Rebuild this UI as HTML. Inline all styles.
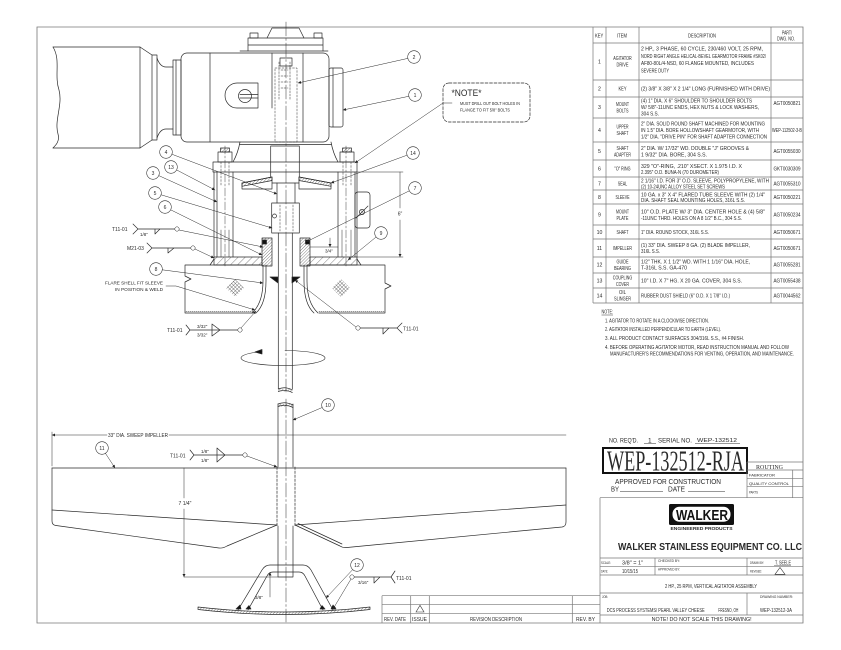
<!DOCTYPE html>
<html><head><meta charset="utf-8">
<style>
html,body{margin:0;padding:0;background:#fff;}
svg{display:block;}
text{font-family:"Liberation Sans",sans-serif;fill:#2a2a2a;stroke:none;}
.s{font-size:5.2px;}
.d{font-size:5px;}
.b{font-size:5px;text-anchor:middle;}
</style></head><body>
<svg width="841" height="650" viewBox="0 0 841 650" xmlns="http://www.w3.org/2000/svg">
<defs>
<pattern id="hatch" width="2.2" height="2.2" patternUnits="userSpaceOnUse" patternTransform="rotate(45)"><line x1="0" y1="0" x2="0" y2="2.2" stroke="#333" stroke-width="0.6"/></pattern>
<pattern id="hatchw" width="5" height="5" patternUnits="userSpaceOnUse" patternTransform="rotate(45)"><line x1="0" y1="0" x2="0" y2="5" stroke="#333" stroke-width="0.6"/></pattern>
<pattern id="xh" width="2.6" height="2.6" patternUnits="userSpaceOnUse" patternTransform="rotate(45)"><path d="M0 0V2.6M0 0H2.6" stroke="#333" stroke-width="0.6"/></pattern>
<marker id="ar" viewBox="0 0 10 10" refX="10" refY="5" markerWidth="4" markerHeight="3" orient="auto" markerUnits="userSpaceOnUse"><path d="M0 0L10 5L0 10z" fill="#222"/></marker>
</defs>

<!-- ===== FRAME ===== -->
<g fill="none" stroke="#777" stroke-width="0.8">
<path d="M37 27H803V623H37Z"/>
</g>

<!-- ===== PARTS TABLE ===== -->
<g fill="none" stroke="#777" stroke-width="0.7">
<path d="M593 27V303M606 27V303M639 27V303M771 27V303"/>
<path d="M593 43H803M593 80H803M593 97H803M593 118H803M593 142H803M593 160H803M593 177H803M593 190H803M593 204H803M593 225H803M593 239H803M593 257H803M593 273H803M593 288H803M593 303H803"/>
</g>
<g class="s">
<text x="595" y="37.5" textLength="8.3" lengthAdjust="spacingAndGlyphs">KEY</text>
<text x="617" y="37.5" textLength="10" lengthAdjust="spacingAndGlyphs">ITEM</text>
<text x="688" y="37.5" textLength="28" lengthAdjust="spacingAndGlyphs">DESCRIPTION</text>
<text x="782" y="34.5" textLength="10" lengthAdjust="spacingAndGlyphs">PART/</text>
<text x="777" y="40.5" textLength="18" lengthAdjust="spacingAndGlyphs">DWG. NO.</text>
</g>
<g class="s" text-anchor="middle">
<text x="599.5" y="63.5">1</text>
<text x="599.5" y="90.5">2</text>
<text x="599.5" y="109">3</text>
<text x="599.5" y="132">4</text>
<text x="599.5" y="153">5</text>
<text x="599.5" y="170.5">6</text>
<text x="599.5" y="185.5">7</text>
<text x="599.5" y="199">8</text>
<text x="599.5" y="216.5">9</text>
<text x="599.5" y="234">10</text>
<text x="599.5" y="250">11</text>
<text x="599.5" y="266.5">12</text>
<text x="599.5" y="282.5">13</text>
<text x="599.5" y="297.5">14</text>
</g>
<g class="s" text-anchor="middle">
<text x="622.5" y="60" textLength="18.5" lengthAdjust="spacingAndGlyphs">AGITATOR</text>
<text x="622.5" y="66.5" textLength="12" lengthAdjust="spacingAndGlyphs">DRIVE</text>
<text x="622.5" y="90.5" textLength="8" lengthAdjust="spacingAndGlyphs">KEY</text>
<text x="622.5" y="106" textLength="13" lengthAdjust="spacingAndGlyphs">MOUNT</text>
<text x="622.5" y="112.5" textLength="12" lengthAdjust="spacingAndGlyphs">BOLTS</text>
<text x="622.5" y="128.5" textLength="12" lengthAdjust="spacingAndGlyphs">UPPER</text>
<text x="622.5" y="135" textLength="12" lengthAdjust="spacingAndGlyphs">SHAFT</text>
<text x="622.5" y="150" textLength="12" lengthAdjust="spacingAndGlyphs">SHAFT</text>
<text x="622.5" y="156.5" textLength="17" lengthAdjust="spacingAndGlyphs">ADAPTER</text>
<text x="622.5" y="170.5" textLength="16" lengthAdjust="spacingAndGlyphs">&quot;O&quot; RING</text>
<text x="622.5" y="185.5" textLength="9.5" lengthAdjust="spacingAndGlyphs">SEAL</text>
<text x="622.5" y="199" textLength="14" lengthAdjust="spacingAndGlyphs">SLEEVE</text>
<text x="622.5" y="213.5" textLength="13" lengthAdjust="spacingAndGlyphs">MOUNT</text>
<text x="622.5" y="220" textLength="12" lengthAdjust="spacingAndGlyphs">PLATE</text>
<text x="622.5" y="234" textLength="12" lengthAdjust="spacingAndGlyphs">SHAFT</text>
<text x="622.5" y="250" textLength="19" lengthAdjust="spacingAndGlyphs">IMPELLER</text>
<text x="622.5" y="263.5" textLength="12" lengthAdjust="spacingAndGlyphs">GUIDE</text>
<text x="622.5" y="270" textLength="17" lengthAdjust="spacingAndGlyphs">BEARING</text>
<text x="622.5" y="279.5" textLength="19.5" lengthAdjust="spacingAndGlyphs">COUPLING</text>
<text x="622.5" y="286" textLength="13" lengthAdjust="spacingAndGlyphs">COVER</text>
<text x="622.5" y="294" textLength="7" lengthAdjust="spacingAndGlyphs">OIL</text>
<text x="622.5" y="300.5" textLength="17" lengthAdjust="spacingAndGlyphs">SLINGER</text>
</g>
<g class="s">
<text x="641" y="50.5" textLength="122" lengthAdjust="spacingAndGlyphs">2 HP., 3 PHASE, 60 CYCLE, 230/460 VOLT, 25 RPM,</text>
<text x="641" y="57.8" textLength="125" lengthAdjust="spacingAndGlyphs">NORD RIGHT ANGLE HELICAL-BEVEL GEARMOTOR FRAME #SK02/</text>
<text x="641" y="65" textLength="113" lengthAdjust="spacingAndGlyphs">AF80-80L/4-NSD, 60 FLANGE MOUNTED, INCLUDES</text>
<text x="641" y="72.3" textLength="28" lengthAdjust="spacingAndGlyphs">SEVERE DUTY</text>
<text x="641" y="90.5" textLength="129" lengthAdjust="spacingAndGlyphs">(2) 3/8&quot; X 3/8&quot; X 2 1/4&quot; LONG (FURNISHED WITH DRIVE)</text>
<text x="641" y="102.5" textLength="111" lengthAdjust="spacingAndGlyphs">(4) 1&quot; DIA. X 6&quot; SHOULDER TO SHOULDER BOLTS</text>
<text x="641" y="109" textLength="118" lengthAdjust="spacingAndGlyphs">W/ 5/8&quot;-11UNC ENDS, HEX NUTS &amp; LOCK WASHERS,</text>
<text x="641" y="115.5" textLength="18" lengthAdjust="spacingAndGlyphs">304 S.S.</text>
<text x="641" y="125.5" textLength="124" lengthAdjust="spacingAndGlyphs">2&quot; DIA. SOLID ROUND SHAFT MACHINED FOR MOUNTING</text>
<text x="641" y="132" textLength="118" lengthAdjust="spacingAndGlyphs">IN 1.5&quot; DIA. BORE HOLLOWSHAFT GEARMOTOR, WITH</text>
<text x="641" y="138.5" textLength="126" lengthAdjust="spacingAndGlyphs">1/2&quot; DIA. &quot;DRIVE PIN&quot; FOR SHAFT ADAPTER CONNECTION</text>
<text x="641" y="150" textLength="108" lengthAdjust="spacingAndGlyphs">2&quot; DIA. W/ 17/32&quot; WD. DOUBLE &quot;J&quot; GROOVES &amp;</text>
<text x="641" y="156.5" textLength="66" lengthAdjust="spacingAndGlyphs">1 9/32&quot; DIA. BORE, 304 S.S.</text>
<text x="641" y="168" textLength="101" lengthAdjust="spacingAndGlyphs">329 &quot;O&quot;-RING, .210&quot; XSECT. X 1.975 I.D. X</text>
<text x="641" y="174" textLength="78" lengthAdjust="spacingAndGlyphs">2.395&quot; O.D. BUNA-N (70 DUROMETER)</text>
<text x="641" y="182.5" textLength="128" lengthAdjust="spacingAndGlyphs">2 1/16&quot; I.D. FOR 3&quot; O.D. SLEEVE, POLYPROPYLENE, WITH</text>
<text x="641" y="188.3" textLength="84" lengthAdjust="spacingAndGlyphs">(2) 10-24UNC ALLOY STEEL SET SCREWS</text>
<text x="641" y="196.5" textLength="124" lengthAdjust="spacingAndGlyphs">10 GA. x 3&quot; X 4&quot; FLARED TUBE SLEEVE WITH (2) 1/4&quot;</text>
<text x="641" y="202" textLength="104" lengthAdjust="spacingAndGlyphs">DIA. SHAFT SEAL MOUNTING HOLES, 316L S.S.</text>
<text x="641" y="213.5" textLength="124" lengthAdjust="spacingAndGlyphs">10&quot; O.D. PLATE W/ 3&quot; DIA. CENTER HOLE &amp; (4) 5/8&quot;</text>
<text x="641" y="220" textLength="101" lengthAdjust="spacingAndGlyphs">-11UNC THRD. HOLES ON A 8 1/2&quot; B.C., 304 S.S.</text>
<text x="641" y="234" textLength="68" lengthAdjust="spacingAndGlyphs">1&quot; DIA. ROUND STOCK, 316L S.S.</text>
<text x="641" y="247" textLength="109" lengthAdjust="spacingAndGlyphs">(1) 33&quot; DIA. SWEEP 8 GA. (2) BLADE IMPELLER,</text>
<text x="641" y="253" textLength="19" lengthAdjust="spacingAndGlyphs">316L S.S.</text>
<text x="641" y="263.5" textLength="109" lengthAdjust="spacingAndGlyphs">1/2&quot; THK. X 1 1/2&quot; WD. WITH 1 1/16&quot; DIA. HOLE,</text>
<text x="641" y="269.5" textLength="46" lengthAdjust="spacingAndGlyphs">T-316L S.S. GA-470</text>
<text x="641" y="282.5" textLength="101" lengthAdjust="spacingAndGlyphs">10&quot; I.D. X  7&quot; HG. X 20 GA. COVER, 304 S.S.</text>
<text x="641" y="297.5" textLength="89" lengthAdjust="spacingAndGlyphs">RUBBER DUST SHIELD (6&quot; O.D. X 1 7/8&quot; I.D.)</text>
</g>
<g class="s" text-anchor="middle">
<text x="787" y="105" textLength="27" lengthAdjust="spacingAndGlyphs">AGT0050821</text>
<text x="787" y="132" textLength="30" lengthAdjust="spacingAndGlyphs">WEP-112502-3-B</text>
<text x="787" y="153" textLength="27" lengthAdjust="spacingAndGlyphs">AGT0055030</text>
<text x="787" y="170.5" textLength="27" lengthAdjust="spacingAndGlyphs">GKT0030309</text>
<text x="787" y="185.5" textLength="27" lengthAdjust="spacingAndGlyphs">AGT0055310</text>
<text x="787" y="199" textLength="27" lengthAdjust="spacingAndGlyphs">AGT0050221</text>
<text x="787" y="216.5" textLength="27" lengthAdjust="spacingAndGlyphs">AGT0050234</text>
<text x="787" y="234" textLength="27" lengthAdjust="spacingAndGlyphs">AGT0050671</text>
<text x="787" y="250" textLength="27" lengthAdjust="spacingAndGlyphs">AGT0050671</text>
<text x="787" y="266.5" textLength="27" lengthAdjust="spacingAndGlyphs">AGT0055281</text>
<text x="787" y="282.5" textLength="27" lengthAdjust="spacingAndGlyphs">AGT0055438</text>
<text x="787" y="297.5" textLength="27" lengthAdjust="spacingAndGlyphs">AGT0044562</text>
</g>

<!-- ===== NOTES ===== -->
<g class="s">
<text x="601.5" y="313.5" textLength="11.5" lengthAdjust="spacingAndGlyphs">NOTE:</text>
<text x="605" y="322.5" textLength="104" lengthAdjust="spacingAndGlyphs">1. AGITATOR TO ROTATE IN A CLOCKWISE DIRECTION.</text>
<text x="605" y="331" textLength="116" lengthAdjust="spacingAndGlyphs">2. AGITATOR INSTALLED PERPENDICULAR TO EARTH (LEVEL).</text>
<text x="605" y="340" textLength="139" lengthAdjust="spacingAndGlyphs">3. ALL PRODUCT CONTACT SURFACES 304/316L S.S., #4 FINISH.</text>
<text x="605" y="349" textLength="184" lengthAdjust="spacingAndGlyphs">4. BEFORE OPERATING AGITATOR MOTOR, READ INSTRUCTION MANUAL AND FOLLOW</text>
<text x="610" y="355.3" textLength="184" lengthAdjust="spacingAndGlyphs">MANUFACTURER'S RECOMMENDATIONS FOR VENTING, OPERATION, AND MAINTENANCE.</text>
</g>
<path d="M601.5 315H613" stroke="#333" stroke-width="0.5"/>

<!-- ===== TITLE BLOCK ===== -->
<g font-size="6.5">
<text x="609" y="442.5" textLength="29" lengthAdjust="spacingAndGlyphs">NO. REQ'D.</text>
<text x="648" y="442.5">1</text>
<text x="658" y="442.5" textLength="34" lengthAdjust="spacingAndGlyphs">SERIAL NO.</text>
<text x="697" y="442" font-size="5.5" textLength="40" lengthAdjust="spacingAndGlyphs">WEP-132512</text>
</g>
<path d="M644 443.5H656M695 443.5H740" stroke="#333" stroke-width="0.5"/>
<rect x="603" y="448" width="144" height="25" fill="none" stroke="#111" stroke-width="2"/>
<text x="607" y="470.5" font-size="29" textLength="137" lengthAdjust="spacingAndGlyphs" style="font-family:'Liberation Serif',serif">WEP-132512-RJA</text>
<text x="615" y="484" font-size="7.3" textLength="106" lengthAdjust="spacingAndGlyphs">APPROVED FOR CONSTRUCTION</text>
<text x="611" y="491.5" font-size="7" textLength="8" lengthAdjust="spacingAndGlyphs">BY</text>
<text x="668" y="491.5" font-size="7" textLength="17" lengthAdjust="spacingAndGlyphs">DATE</text>
<path d="M620 491.5H663M688 491.5H725" stroke="#333" stroke-width="0.5"/>

<g fill="none" stroke="#777" stroke-width="0.7">
<path d="M747 462H803M747 462V497.7M747 470H803M747 478.3H803M747 486.7H803M792.7 470V497.7"/>
<path d="M600 497.7H803M600 497.7V623"/>
<path d="M600 558H803M600 566.7H803M600 575H803M600 593H803M600 615H803"/>
<path d="M655 558V575M747 558V575M747 593V615"/>
<path d="M382 595.7H600M382 604.3H600M382 613.3H600M382 595.7V623M410.7 595.7V623M429.3 595.7V623M572.3 595.7V623"/>
</g>
<text x="756" y="468.8" font-size="6" textLength="27" lengthAdjust="spacingAndGlyphs" style="font-family:'Liberation Serif',serif">ROUTING</text>
<g font-size="4">
<text x="749" y="476.3" textLength="26" lengthAdjust="spacingAndGlyphs">FABRICATOR</text>
<text x="749" y="484.8" textLength="40" lengthAdjust="spacingAndGlyphs">QUALITY CONTROL</text>
<text x="749" y="493.5" textLength="9" lengthAdjust="spacingAndGlyphs">PARTS</text>
</g>

<!-- logo -->
<rect x="669" y="504" width="65" height="21" rx="1.5" fill="#111"/>
<rect x="672.5" y="506.8" width="58" height="15" rx="7" fill="#fff"/>
<text x="702" y="520" font-size="15" font-weight="bold" text-anchor="middle" textLength="52" lengthAdjust="spacingAndGlyphs" style="fill:#111">WALKER</text>
<text x="701.5" y="530" font-size="4.4" font-weight="bold" text-anchor="middle" textLength="62" lengthAdjust="spacingAndGlyphs">ENGINEERED PRODUCTS</text>
<text x="710" y="550" font-size="10" font-weight="bold" text-anchor="middle" textLength="184" lengthAdjust="spacingAndGlyphs">WALKER STAINLESS EQUIPMENT CO. LLC</text>

<g font-size="3.6">
<text x="601" y="563.8" textLength="10" lengthAdjust="spacingAndGlyphs">SCALE:</text>
<text x="601" y="572.5" textLength="7" lengthAdjust="spacingAndGlyphs">DATE:</text>
<text x="658" y="561.8" textLength="22" lengthAdjust="spacingAndGlyphs">CHECKED BY:</text>
<text x="658" y="570.3" textLength="22" lengthAdjust="spacingAndGlyphs">APPROVED BY:</text>
<text x="750" y="563.8" textLength="14" lengthAdjust="spacingAndGlyphs">DRAWN BY:</text>
<text x="750" y="572.5" textLength="12" lengthAdjust="spacingAndGlyphs">REVISED:</text>
<text x="602" y="598" textLength="6" lengthAdjust="spacingAndGlyphs">JOB:</text>
<text x="760" y="598" textLength="33" lengthAdjust="spacingAndGlyphs">DRAWING NUMBER:</text>
</g>
<g font-size="5">
<text x="622" y="564.5" textLength="21" lengthAdjust="spacingAndGlyphs">3/8&quot; = 1&quot;</text>
<text x="622" y="573" textLength="16" lengthAdjust="spacingAndGlyphs">10/15/15</text>
<text x="775" y="564.5" textLength="16" lengthAdjust="spacingAndGlyphs">T. SEELE</text>
<text x="665" y="587.8" textLength="92" lengthAdjust="spacingAndGlyphs">2 HP., 25 RPM, VERTICAL AGITATOR ASSEMBLY</text>
<text x="606.7" y="611.8" textLength="98" lengthAdjust="spacingAndGlyphs">DCS PROCESS SYSTEMS/ PEARL VALLEY CHEESE</text>
<text x="718.3" y="611.8" textLength="20" lengthAdjust="spacingAndGlyphs">FRESNO, OH</text>
<text x="760" y="611.8" textLength="32" lengthAdjust="spacingAndGlyphs">WEP-132512-3A</text>
<text x="651.7" y="621.2" textLength="100" lengthAdjust="spacingAndGlyphs">NOTE! DO NOT SCALE THIS DRAWING!</text>
<text x="384" y="621" textLength="22" lengthAdjust="spacingAndGlyphs">REV. DATE</text>
<text x="412" y="621" textLength="15" lengthAdjust="spacingAndGlyphs">ISSUE</text>
<text x="470" y="621" textLength="52" lengthAdjust="spacingAndGlyphs">REVISION DESCRIPTION</text>
<text x="576" y="621" textLength="19" lengthAdjust="spacingAndGlyphs">REV. BY</text>
</g>
<path d="M774 565.5H791" stroke="#333" stroke-width="0.4"/>
<path d="M775 574.3L780 567.5L785 574.3Z M416 612L420 605.3L424 612Z" fill="none" stroke="#333" stroke-width="0.6"/>

<!-- ===== DRAWING ===== -->
<g fill="none" stroke="#2a2a2a" stroke-width="0.7" stroke-linejoin="round" stroke-linecap="round">
<!-- center line -->
<path d="M286 22V392M286 399V622" stroke-dasharray="14 2.5 2 2.5" stroke-width="0.5"/>
<path d="M225 146V268M346 146V268" stroke-dasharray="8 2 2 2" stroke-width="0.45"/>

<!-- motor -->
<path d="M53 47C61 60 54 75 59 90C63 105 54 120 58 134C60 141 56 145 53 148"/>
<path d="M53 47H140L152 55V140L140 148H53"/>
<path d="M140 47V148"/>
<path d="M152 55H157V140H152"/>
<path d="M157 58Q160 67 166 67H173M157 138Q160 129 166 129H173"/>
<rect x="173" y="60" width="8" height="75"/>
<path d="M176 60V135"/>
<!-- gearbox -->
<rect x="181" y="53" width="148" height="89" rx="6"/>
<path d="M210 53V142"/>
<path d="M272 53V108M303 53V142"/>
<path d="M240 51H328"/>
<path d="M248 51V38H323V51M248 45H323"/>
<rect x="250" y="33" width="8" height="5"/>
<rect x="314" y="33" width="8" height="5"/>
<path d="M267 38L272 28H299L304 38"/>
<rect x="329" y="68" width="14" height="59" rx="2"/>
<path d="M333 68V127"/>
<path d="M258 83H237A12 12.5 0 0 0 237 108H258Z"/>
<circle cx="245" cy="96" r="6.5"/>
<path d="M240 94.5H258M240 98H258"/>
<path d="M240 142Q238 153 233 162M331 142Q333 153 338 162M240 144.5H331"/>
<!-- hidden shaft -->
<rect x="275" y="68" width="22" height="74" stroke-dasharray="2 1.5" stroke-width="0.5"/>
<path d="M279 62V100M290 62V100M281 70H288M281 76H288M281 82H288M281 88H288" stroke-dasharray="2 1.2" stroke-width="0.5"/>
<rect x="280" y="58" width="12" height="8"/>
<!-- mount frame top -->
<rect x="213" y="162" width="144" height="10"/>
<rect x="218" y="152" width="14" height="10"/>
<rect x="340" y="152" width="14" height="10"/>
<rect x="220.5" y="148" width="9" height="4" fill="url(#hatch)"/>
<rect x="342.5" y="148" width="9" height="4" fill="url(#hatch)"/>
<path d="M221 162V186M229 162V186M343 162V186M351 162V186" stroke-dasharray="2 1.5" stroke-width="0.5"/>
<!-- posts -->
<path d="M214 172V257M217 172V257M233 172V257M338 172V257M355 172V257M357 172V257"/>
<path d="M221 230V257M229 230V257M342 230V257M351 230V257" stroke-width="0.5"/>
<rect x="355" y="192" width="15" height="36" rx="3"/>
<circle cx="362" cy="212" r="2.6" fill="url(#xh)"/>
<path d="M356 218L368 206"/>
<!-- shaft 4 region -->
<rect x="270.7" y="146" width="28.6" height="37"/>
<path d="M277 183V203M295 183V203"/>
<!-- oil slinger -->
<path d="M242 183L272 177V189H242Z M299 177L331 183V189H299Z" fill="#fff"/>
<path d="M242 183L272 177V180.5L242 186.3Z M299 177L331 183V186.3L299 180.5Z" fill="url(#hatch)"/>
<!-- adapter -->
<rect x="271.7" y="203" width="27.6" height="30"/>
<circle cx="274.5" cy="216" r="2"/>
<path d="M280 205V231M293 205V231" stroke-dasharray="2 1.5" stroke-width="0.5"/>
<!-- shaft 10 upper -->
<path d="M278.3 233V389M292.3 233V389"/>
<path d="M278.3 389Q285 386 292.3 390M278.3 391.5Q285 389 292.3 392.5"/>
<rect x="278.3" y="389" width="14" height="2.5" fill="url(#hatch)" stroke="none"/>
<!-- seal / sleeve -->
<rect x="262" y="238" width="10" height="28" fill="url(#hatch)"/>
<rect x="300" y="238" width="10" height="28" fill="url(#hatch)"/>
<rect x="262.5" y="240" width="4" height="4" fill="#111"/>
<rect x="305.5" y="240" width="4" height="4" fill="#111"/>
<!-- mount plate -->
<rect x="214" y="257" width="48" height="8" fill="url(#hatchw)"/>
<rect x="310" y="257" width="47" height="8" fill="url(#hatchw)"/>
<path d="M210 265L214 259M357 259L361 265"/>
<!-- tank roof -->
<path d="M185 265H262M185 265V276L191 279L185 282V313H253"/>
<path d="M307 265H385V283L391 286L385 289V313H319"/>
<path d="M186 311.5H253M319 311.5H384" stroke-dasharray="1 1" stroke-width="0.5"/>
<path d="M263 265V281Q263 303 252 313M266 265V281Q266 304 256 313"/>
<path d="M307 265V281Q307 303 318 313M304 265V281Q304 304 314 313"/>
<path d="M270 277H278V283Z M300 277H292V283Z" fill="#111"/>
<path d="M235 279L244 288L235 297L226 288Z" fill="url(#xh)" stroke="none"/>
<path d="M341 279L350 288L341 297L332 288Z" fill="url(#xh)" stroke="none"/>
<!-- 6" dim -->
<path d="M357 172H403M357 257H403" stroke-width="0.5"/>
<path d="M400 208V172M400 220V257" stroke-width="0.5" marker-end="url(#ar)"/>
<!-- 3/4" dim -->
<path d="M310 247H338" stroke-width="0.5"/>
<path d="M330 238V247" stroke-width="0.5" marker-end="url(#ar)"/>
<!-- rotation arrow -->
<path d="M262 351.5A42 7.5 0 1 0 285 350.5" stroke-width="0.6"/>
<path d="M255 352L262 349.5L262 354Z" fill="#111"/>

<!-- lower shaft -->
<path d="M278 404V467M293 404V467M278 526V577M293 526V577M278 577H293"/>
<path d="M278 404Q285 401 293 405M278 406.5Q285 403.5 293 407.5"/>
<rect x="278" y="404" width="15" height="2.5" fill="url(#hatch)" stroke="none"/>
<!-- impeller -->
<path d="M52 432V466" stroke-width="0.5"/>
<path d="M107 435H52" stroke-width="0.5" marker-end="url(#ar)"/>
<path d="M169 435H566" stroke-width="0.5"/>
<path d="M52 468H566"/>
<path d="M52 468V521Q52 525 56 525.5L219 548Q223 548.5 227 546L277 525"/>
<path d="M52 510L277 525"/>
<path d="M295 525L566 505"/>
<path d="M295 525L340 546Q343 548 347 547.5L562 527Q566 526.5 566 522V468"/>
<path d="M298 523.5L342 544"/>
<path d="M277 467V526M295 467V526" stroke-dasharray="2.5 1.5"/>
<!-- 7 1/4 dim -->
<path d="M184 498V468M184 509V577" stroke-width="0.5" marker-end="url(#ar)"/>
<path d="M184 577H278" stroke-width="0.5"/>
<!-- bracket -->
<path d="M238 610L262 570Q265 565 270 565H303Q308 565 311 570L333 610"/>
<path d="M248 610L267 576Q269 572 273 572H299Q303 572 305 576L323 610"/>
<path d="M198 607Q285 617 370 607L370 609.5Q285 619.5 198 609.5Z" fill="url(#hatch)"/>
<path d="M236 609L240 605L241 609Z M246 609L249 605.5L251 609Z M320 609L322 605.5L325 609Z M331 609L333 605L336 609Z" fill="#111"/>
<path d="M270 597V572.5" stroke-width="0.5" marker-end="url(#ar)"/>

<!-- weld symbols -->
<path d="M133 224L138 229L133 234M138 229H177M155 229V234L160 229"/>
<path d="M147 243L152 248L147 253M152 248H193M168 248V253L174 248"/>
<path d="M186 325L190 330L186 335M190 330H240M212 324L220 330L212 336Z"/>
<path d="M360 328H397M383 328V334L389 328M402 323L397 328L402 333"/>
<path d="M190 450L194 455L190 460M194 455H245M217 448L225 455L217 462Z"/>
<path d="M354 577H391M374 577V583L380 577M395 571L391 577L395 583"/>
<!-- weld leaders -->
<path d="M179 230L263 247" stroke-width="0.5" marker-end="url(#ar)"/>
<path d="M195 249L214 258" stroke-width="0.5" marker-end="url(#ar)"/>
<path d="M241 328L256 311" stroke-width="0.5" marker-end="url(#ar)"/>
<path d="M356 327L295 280" stroke-width="0.5" marker-end="url(#ar)"/>
<path d="M247 456L277 467" stroke-width="0.5" marker-end="url(#ar)"/>
<path d="M351 579L333 609" stroke-width="0.5" marker-end="url(#ar)"/>
<path d="M166 286H176L255 310" stroke-width="0.5" marker-end="url(#ar)"/>

<!-- balloon leaders -->
<g stroke-width="0.5">
<path d="M415 95L343 110" marker-end="url(#ar)"/>
<path d="M414 57L298 83" marker-end="url(#ar)"/>
<path d="M413 153L331 183" marker-end="url(#ar)"/>
<path d="M415 188L306 242" marker-end="url(#ar)"/>
<path d="M381 233L348 260" marker-end="url(#ar)"/>
<path d="M328 405L293 420" marker-end="url(#ar)"/>
<path d="M102 448L115 468" marker-end="url(#ar)"/>
<path d="M357 565L326 598" marker-end="url(#ar)"/>
<path d="M166 152L277 194" marker-end="url(#ar)"/>
<path d="M171 167L215 190" marker-end="url(#ar)"/>
<path d="M153 173L217 202" marker-end="url(#ar)"/>
<path d="M155 193L272 228" marker-end="url(#ar)"/>
<path d="M165 207L262 255" marker-end="url(#ar)"/>
<path d="M156 269L263 283" marker-end="url(#ar)"/>
<path d="M452 103H443L355 163" marker-end="url(#ar)"/>
</g>
<!-- weld circles -->
<g fill="#fff" stroke-width="0.5">
<circle cx="177" cy="229" r="2.2"/>
<circle cx="193" cy="248" r="2.2"/>
<circle cx="240" cy="330" r="2.2"/>
<circle cx="358" cy="328" r="2.2"/>
<circle cx="245" cy="455" r="2.2"/>
<circle cx="352" cy="577" r="2.2"/>
</g>
<!-- balloons -->
<g fill="#fff" stroke-width="0.55">
<circle cx="415" cy="95" r="6.3"/>
<circle cx="414" cy="57" r="6.3"/>
<circle cx="413" cy="153" r="6.3"/>
<circle cx="415" cy="188" r="6.3"/>
<circle cx="381" cy="233" r="6.3"/>
<circle cx="328" cy="405" r="6.3"/>
<circle cx="102" cy="448" r="6.3"/>
<circle cx="357" cy="565" r="6.3"/>
<circle cx="166" cy="152" r="6.3"/>
<circle cx="171" cy="167" r="6.3"/>
<circle cx="153" cy="173" r="6.3"/>
<circle cx="155" cy="193" r="6.3"/>
<circle cx="165" cy="207" r="6.3"/>
<circle cx="156" cy="269" r="6.3"/>
</g>
<!-- note box -->
<rect x="443" y="83" width="87" height="39" rx="6" stroke-dasharray="3 1.5" fill="#fff"/>
<path d="M452 103H443" stroke-width="0.5"/>
</g>

<!-- balloon numbers -->
<g class="b">
<text x="415" y="96.8">1</text>
<text x="414" y="58.8">2</text>
<text x="413" y="154.8">14</text>
<text x="415" y="189.8">7</text>
<text x="381" y="234.8">9</text>
<text x="328" y="406.8">10</text>
<text x="102" y="449.8">11</text>
<text x="357" y="566.8">12</text>
<text x="166" y="153.8">4</text>
<text x="171" y="168.8">13</text>
<text x="153" y="174.8">3</text>
<text x="155" y="194.8">5</text>
<text x="165" y="208.8">6</text>
<text x="156" y="270.8">8</text>
</g>

<!-- drawing labels -->
<g class="d">
<text x="112" y="231">T11-01</text>
<text x="140" y="236" font-size="4.5">1/8&quot;</text>
<text x="127" y="250">M21-03</text>
<text x="163" y="284.5" text-anchor="end" font-size="4.5" textLength="58" lengthAdjust="spacingAndGlyphs">FLARE SHELL FIT SLEEVE</text>
<text x="163" y="291" text-anchor="end" font-size="4.5" textLength="48" lengthAdjust="spacingAndGlyphs">IN POSITION &amp; WELD</text>
<text x="167" y="332">T11-01</text>
<text x="197" y="328" font-size="4.5">3/32&quot;</text>
<text x="197" y="336.5" font-size="4.5">3/32&quot;</text>
<text x="403" y="330.5">T11-01</text>
<text x="400" y="215.5" text-anchor="middle">6&quot;</text>
<text x="325" y="252.5" font-size="4.5">3/4&quot;</text>
<text x="108" y="437" textLength="60" lengthAdjust="spacingAndGlyphs">33&quot; DIA. SWEEP IMPELLER</text>
<text x="170" y="457.5">T11-01</text>
<text x="201" y="453" font-size="4.5">1/8&quot;</text>
<text x="201" y="462" font-size="4.5">1/8&quot;</text>
<text x="185" y="505" text-anchor="middle">7 1/4&quot;</text>
<text x="255" y="599" font-size="4.5">3/8&quot;</text>
<text x="358" y="584" font-size="4.5">3/16&quot;</text>
<text x="396" y="580">T11-01</text>
<text x="451.5" y="96" font-size="9" textLength="30" lengthAdjust="spacingAndGlyphs">*NOTE*</text>
<text x="460" y="104.8" font-size="4.2" textLength="60" lengthAdjust="spacingAndGlyphs">MUST DRILL OUT BOLT HOLES IN</text>
<text x="460" y="111.5" font-size="4.2" textLength="50" lengthAdjust="spacingAndGlyphs">FLANGE TO FIT 5/8&quot; BOLTS</text>
</g>
</svg>
</body></html>
